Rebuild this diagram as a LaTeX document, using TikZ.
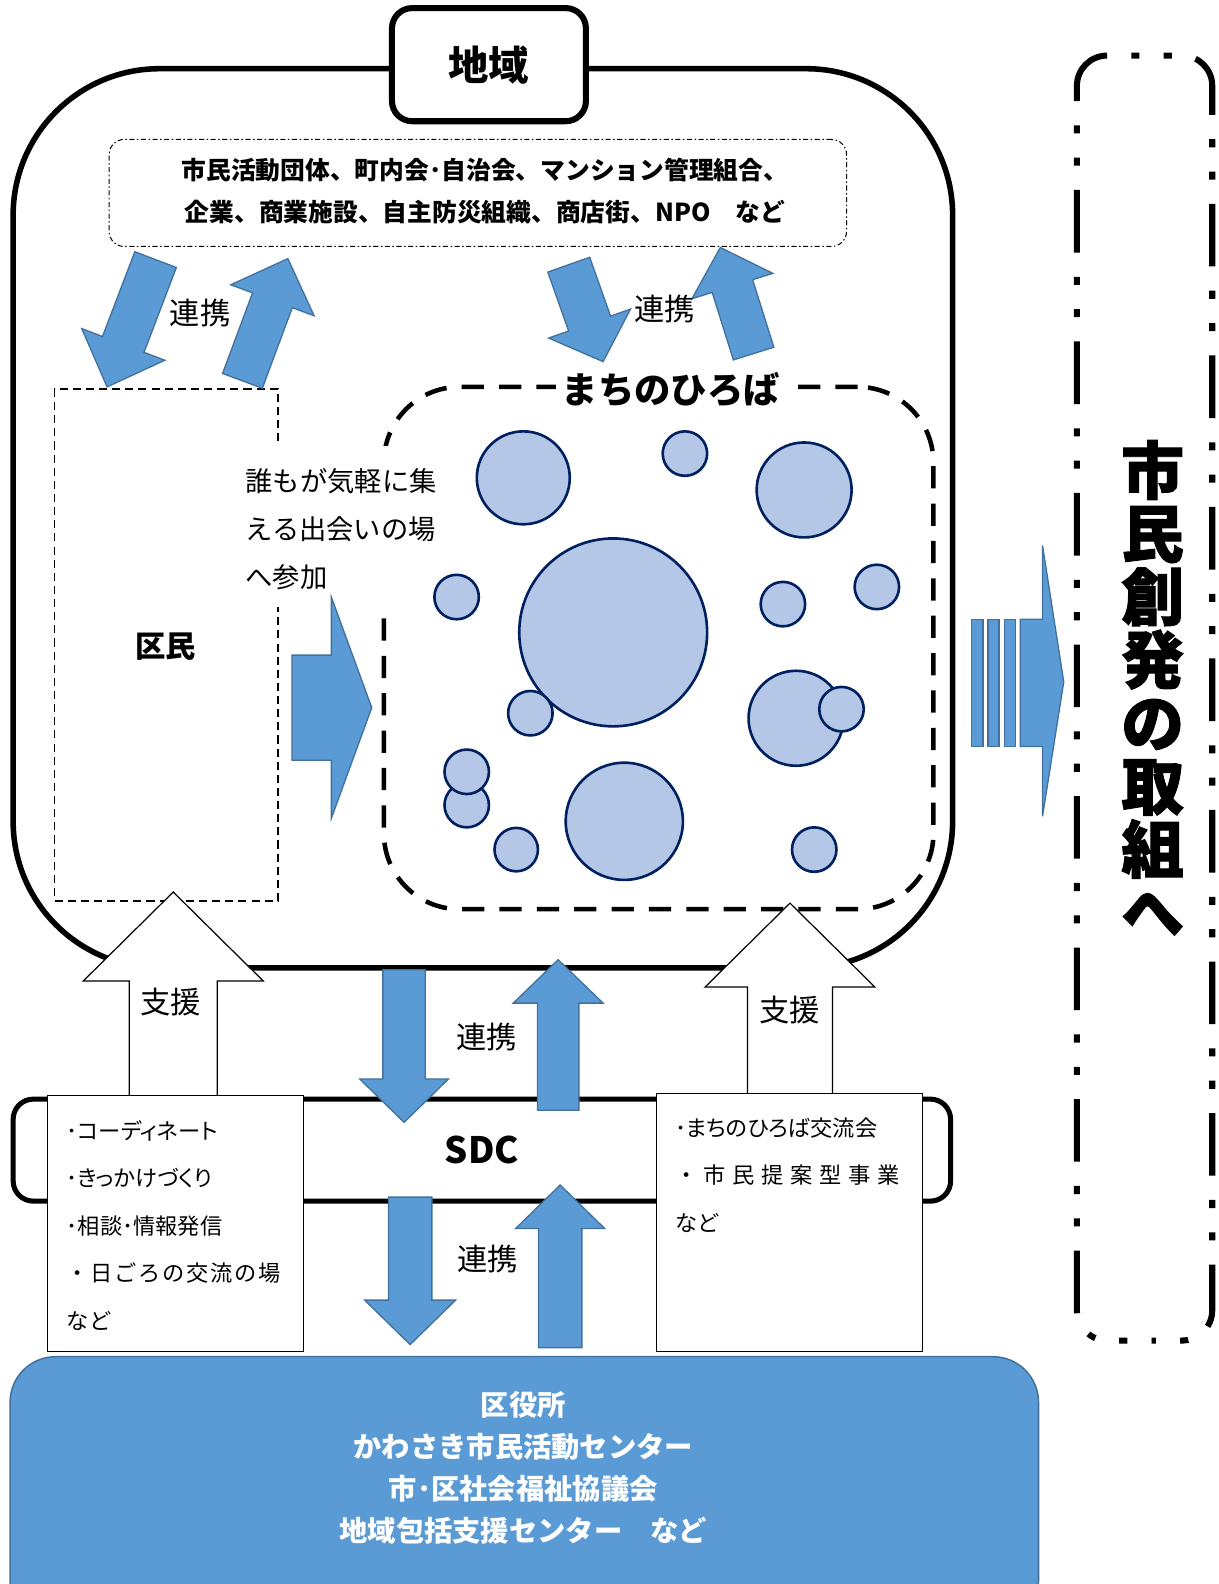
\documentclass[tikz,border=0pt]{standalone}
\usepackage{fontspec}
\setmainfont{Noto Sans CJK JP}
\newfontfamily\jpp{Noto Sans CJK JP}[RawFeature=+palt]
\newfontfamily\heavyjp{Noto Sans CJK JP}[BoldFeatures={FakeBold=1.5}]
\usetikzlibrary{calc}
\definecolor{blueFill}{RGB}{91,155,213}
\definecolor{blueLine}{RGB}{65,113,156}
\definecolor{circFill}{RGB}{180,199,231}
\definecolor{circLine}{RGB}{0,32,96}
\newcommand\blockarr[7][blk]{%
  \coordinate (#2s) at (#3);
  \coordinate (#2t) at (#4);
  \coordinate (#2b) at ($(#2t)!#7!(#2s)$);
  \draw[#1] ($(#2s)!#5!90:(#2t)$) -- ($(#2b)!#5!90:(#2t)$) -- ($(#2b)!#6!90:(#2t)$) -- (#2t)
     -- ($(#2b)!#6!-90:(#2t)$) -- ($(#2b)!#5!-90:(#2t)$) -- ($(#2s)!#5!-90:(#2t)$) -- cycle;
}
\begin{document}
\begin{tikzpicture}[x=1pt,y=-1pt,line join=miter,
  blk/.style={draw=blueLine, fill=blueFill, line width=1.3pt},
  whitearr/.style={draw=black, fill=white, line width=1.2pt},
  circ/.style={circle, draw=circLine, fill=circFill, line width=2.6pt, inner sep=0pt},
  lbl/.style={inner sep=0pt, font=\fontsize{30}{36}\selectfont},
  listbox/.style={draw=black, fill=white, line width=1pt, inner sep=0pt},
  dashdotdot/.style={line width=6pt, rounded corners=30pt, dash pattern=on 62pt off 24pt on 8pt off 24pt on 8pt off 24pt},
  ]
\useasboundingbox (0,0) rectangle (1206,1568);

% region box
\draw[line width=5.5pt, rounded corners=145pt] (13,68) rectangle (943,958);
\node[draw, line width=6pt, rounded corners=20pt, fill=white, minimum width=192pt, minimum height=112pt, inner sep=0pt, font=\bfseries\fontsize{40}{48}\selectfont] (chiiki) at (484,64) {地域};

% organisations
\node[draw, line width=1pt, dash pattern=on 5pt off 2.5pt on 1.5pt off 2.5pt, rounded corners=15pt, minimum width=730pt, minimum height=106pt, inner sep=0pt] (orgs) at (473,191) {};
\node[align=center, inner sep=0pt, font=\bfseries\fontsize{24.5}{42}\selectfont] (orgstxt) at (480,189) {市民活動団体、町内会･自治会、マンション管理組合、\\企業、商業施設、自主防災組織、商店街、NPO　など};

% kumin box
\node[draw, line width=1.6pt, dash pattern=on 8pt off 5pt, minimum width=221pt, minimum height=507pt, inner sep=0pt] (kumin) at (164.5,638.5) {};
\node[inner sep=0pt, font=\bfseries\fontsize{30}{36}\selectfont] (kumintxt) at (164,640) {区民};

% machi no hiroba
\node[draw, line width=4.5pt, dash pattern=on 22pt off 15pt, rounded corners=75pt, minimum width=544pt, minimum height=517pt, inner sep=0pt] (machi) at (652,641.5) {};
\node[fill=white, inner xsep=6pt, inner ysep=2pt, font=\bfseries\fontsize{36}{44}\selectfont] (machitxt) at (664,386) {まちのひろば};

\fill[white] (262,441) rectangle (447,601);
\node[anchor=west, align=left, inner sep=0pt, font=\fontsize{27}{47.5}\selectfont] (sanka) at (243,524) {誰もが気軽に集\\える出会いの場\\へ参加};

% circles
\node[circ, minimum size=92pt] (c1) at (518,473) {};
\node[circ, minimum size=44pt] (c2) at (678,449) {};
\node[circ, minimum size=94pt] (c3) at (796,485) {};
\node[circ, minimum size=44pt] (c4) at (452,591) {};
\node[circ, minimum size=186pt] (c5) at (607,626) {};
\node[circ, minimum size=44pt] (c6) at (775,598) {};
\node[circ, minimum size=44pt] (c7) at (868,581) {};
\node[circ, minimum size=44pt] (c8) at (525,706) {};
\node[circ, minimum size=94pt] (c9) at (788,711) {};
\node[circ, minimum size=44pt] (c10) at (833,702) {};
\node[circ, minimum size=44pt] (c12) at (462,797) {};
\node[circ, minimum size=44pt] (c11) at (462,764) {};
\node[circ, minimum size=43pt] (c13) at (511,841) {};
\node[circ, minimum size=116pt] (c14) at (618,813) {};
\node[circ, minimum size=44pt] (c15) at (806,841) {};

% upper link arrows
\blockarr{aA}{154,257}{106,383}{22pt}{44pt}{45pt}
\blockarr{aB}{240,377}{285,256}{21pt}{44pt}{44pt}
\blockarr{aC}{563,262}{597,358}{22pt}{43pt}{40pt}
\blockarr{aD}{746,350}{713,245}{21pt}{42pt}{40pt}
\node[lbl] (renkei1) at (198,310) {連携};
\node[lbl] (renkei2) at (658,306) {連携};

% kumin -> hiroba
\blockarr{aK}{289,700.5}{368,700.5}{52pt}{109.5pt}{40pt}

% striped arrow
\draw[blk] (962,613) rectangle (973,739);
\draw[blk] (978,613) rectangle (989,739);
\draw[blk] (994,613) rectangle (1005,739);
\draw[blk] (1010,613) -- (1032,613) -- (1032,540) -- (1053,675) -- (1032,808) -- (1032,739) -- (1010,739) -- cycle;

% right box (dash-dot-dot frame)
\coordinate (rbA) at (1066,100);
\coordinate (rbTL) at (1066,55);
\coordinate (rbTR) at (1200,55);
\coordinate (rbBR) at (1200,1327);
\coordinate (rbBL) at (1066,1327);
\coordinate (rbBM) at (1140,1327);
\draw[dashdotdot] (rbA) -- (rbTL) -- (rbTR) -- (rbBR) -- (rbBM);
\draw[dashdotdot, dash phase=62pt] (rbA) -- (rbBL) -- (rbBM);
\node[align=center, inner sep=0pt, font=\heavyjp\bfseries\fontsize{62}{62.5}\selectfont] (vt) at (1141,681) {市\\民\\創\\発\\の\\取\\組\\へ};

% SDC
\node[draw, line width=5pt, rounded corners=20pt, minimum width=928pt, minimum height=101pt, inner sep=0pt] (sdc) at (477,1138.5) {};
\node[inner sep=0pt, font=\bfseries\fontsize{36}{40}\selectfont] (sdctxt) at (477,1138) {SDC};

% support arrows
\blockarr[whitearr]{wL}{171.5,1090}{171.5,883}{43.5pt}{89pt}{88pt}
\blockarr[whitearr]{wR}{782,1088}{782,894}{42pt}{84pt}{83pt}
\node[lbl] (shien1) at (169,992) {支援};
\node[lbl] (shien2) at (782,1000) {支援};

% list boxes
\node[listbox, minimum width=253pt, minimum height=254pt] (listL) at (173.5,1211) {};
\node[anchor=west, align=left, inner sep=0pt, font=\fontsize{22}{47}\selectfont] (listLtxt) at (66,1213) {{\jpp ･コーディネート}\\{\jpp ･きっかけづくり}\\{\jpp ･相談･情報発信}\\{\addfontfeature{LetterSpace=8}・日ごろの交流の場}\\など};
\node[listbox, minimum width=263pt, minimum height=256pt] (listR) at (781.5,1210) {};
\node[anchor=west, align=left, inner sep=0pt, font=\fontsize{22}{47}\selectfont] (listRtxt) at (668,1163) {{\jpp ･まちのひろば交流会}\\{\addfontfeature{LetterSpace=30}・市民提案型事業}\\など};

% middle link arrows
\blockarr{mA}{400,960}{400,1111}{21pt}{44pt}{43pt}
\blockarr{mB}{552.5,1099}{552.5,950}{20.5pt}{44.5pt}{43pt}
\node[lbl] (renkei3) at (482,1027) {連携};
\blockarr{mC}{406,1185}{406,1331}{21.5pt}{45pt}{44pt}
\blockarr{mD}{554.5,1334}{554.5,1173}{21.5pt}{44pt}{43pt}
\node[lbl] (renkei4) at (483,1246) {連携};

% bottom box
\node[draw=blueLine, fill=blueFill, line width=1.5pt, rounded corners=45pt, minimum width=1018pt, minimum height=267pt, inner sep=0pt] (gov) at (519,1476.5) {};
\node[align=center, inner sep=0pt, text=white, font=\bfseries\fontsize{28}{41.5}\selectfont] (govtxt) at (518,1453) {区役所\\かわさき市民活動センター\\市･区社会福祉協議会\\地域包括支援センター　など};
\end{tikzpicture}
\end{document}
